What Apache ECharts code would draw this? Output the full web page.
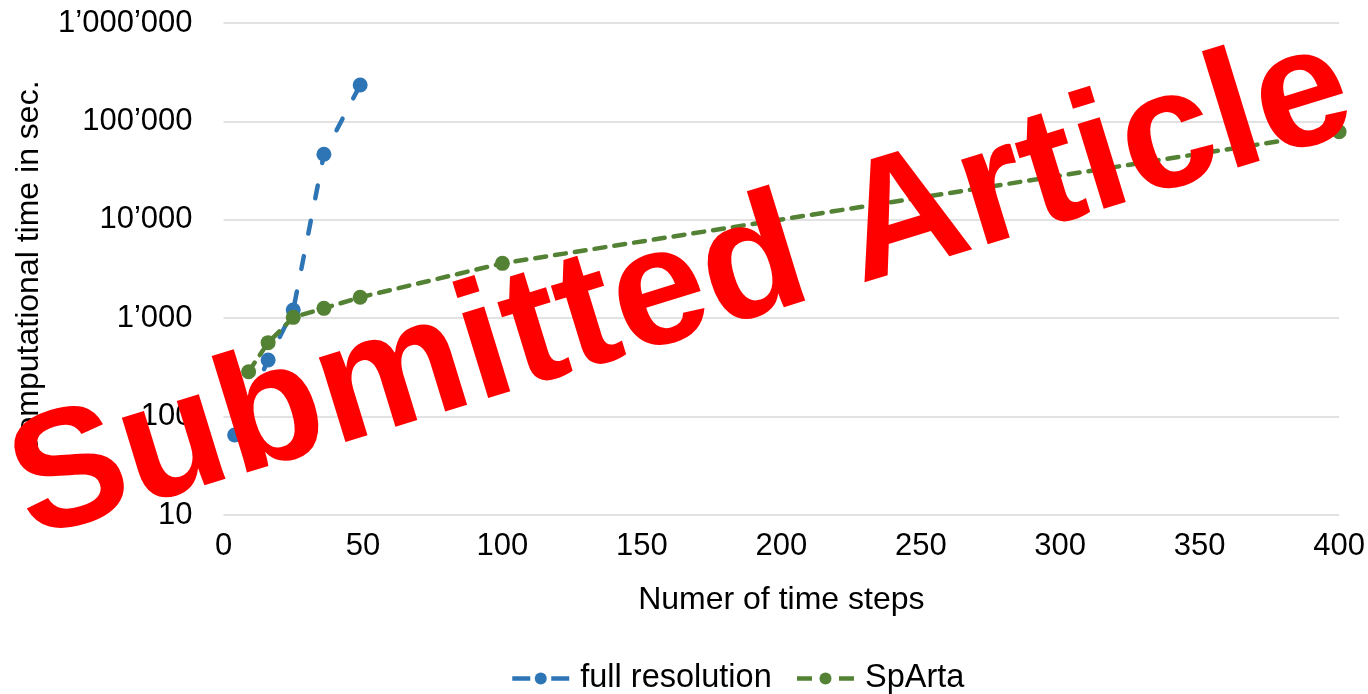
<!DOCTYPE html>
<html>
<head>
<meta charset="utf-8">
<script src="https://cdn.jsdelivr.net/npm/echarts@6/dist/echarts.min.js"></script>
<style>
  html, body { margin: 0; padding: 0; background: #ffffff; }
  #chart { width: 1368px; height: 694px; }
</style>
</head>
<body>
<div id="chart"></div>
<script>
// Computational time (seconds) against the number of time steps
const fullResSteps = [4, 16, 25, 36, 49];
const fullResTime = [65, 376, 1210, 46300, 234000];
const spartaSteps = [9, 16, 25, 36, 49, 100, 400];
const spartaTime = [286, 564, 1020, 1260, 1630, 3610, 78500];

const seriesNames = ['full resolution', 'SpArta'];
const xAxisTitle = 'Numer of time steps';
const yAxisTitle = 'Computational time in sec.';
const stampText = 'Submitted Article';

const FONT = 'Arial, "Liberation Sans", sans-serif';
const BLUE = '#2E75B6';
const GREEN = '#548235';

function pairs(xs, ys) {
  return xs.map((x, i) => [x, ys[i]]);
}

// thousands separated with a typographic apostrophe: 1’000’000
function swissFormat(v) {
  return String(Math.round(v)).replace(/\B(?=(\d{3})+(?!\d))/g, '\u2019');
}

const chart = echarts.init(document.getElementById('chart'));

chart.setOption({
  animation: false,
  backgroundColor: '#ffffff',
  textStyle: { fontFamily: FONT },
  grid: { left: 223.5, right: 28.5, top: 23, bottom: 179, containLabel: false },
  xAxis: {
    type: 'value',
    min: 0,
    max: 400,
    interval: 50,
    name: xAxisTitle,
    nameLocation: 'middle',
    nameGap: 69,
    nameTextStyle: { color: '#000', fontSize: 32, fontFamily: FONT },
    axisLine: { show: false },
    axisTick: { show: false },
    splitLine: { show: false },
    axisLabel: { color: '#000', fontSize: 31, fontFamily: FONT, margin: 16 }
  },
  yAxis: {
    type: 'log',
    logBase: 10,
    min: 10,
    max: 1000000,
    name: yAxisTitle,
    nameLocation: 'middle',
    nameRotate: 90,
    nameGap: 178,
    nameTextStyle: { color: '#000', fontSize: 32, fontFamily: FONT },
    axisLine: { show: false },
    axisTick: { show: false },
    splitLine: { show: true, lineStyle: { color: '#d9d9d9', width: 1.5 } },
    axisLabel: {
      color: '#000', fontSize: 31, fontFamily: FONT, margin: 31,
      formatter: swissFormat
    }
  },
  legend: {
    top: 657,
    left: 505,
    itemWidth: 57,
    itemHeight: 15,
    itemGap: 23,
    textStyle: { color: '#000', fontSize: 32.5, fontFamily: FONT, padding: [0, 0, 0, 6] },
    data: [
      { name: seriesNames[0], lineStyle: { width: 4.5, type: [18, 21], cap: 'butt' } },
      { name: seriesNames[1], lineStyle: { width: 4.5, type: [15, 27], cap: 'butt' } }
    ]
  },
  series: [
    {
      name: seriesNames[0],
      type: 'line',
      data: pairs(fullResSteps, fullResTime),
      symbol: 'circle',
      symbolSize: 15,
      color: BLUE,
      lineStyle: { width: 4.5, type: [13, 23], cap: 'round' },
      itemStyle: { color: BLUE },
      z: 3
    },
    {
      name: seriesNames[1],
      type: 'line',
      data: pairs(spartaSteps, spartaTime),
      symbol: 'circle',
      symbolSize: 15,
      color: GREEN,
      lineStyle: { width: 4.5, type: [11, 9], cap: 'round' },
      itemStyle: { color: GREEN },
      z: 4
    }
  ],
  graphic: [
    {
      type: 'text',
      x: 682,
      y: 290,
      rotation: 17.1 * Math.PI / 180,
      z: 100,
      silent: true,
      style: {
        text: stampText,
        fill: '#ff0000',
        font: 'bold 168px ' + FONT,
        textAlign: 'center',
        textVerticalAlign: 'middle'
      }
    }
  ]
});
</script>
</body>
</html>
